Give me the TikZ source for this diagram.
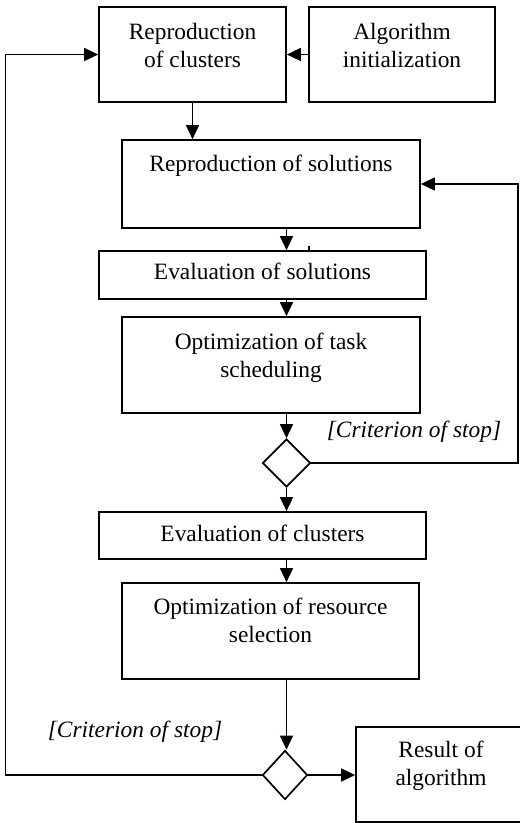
\documentclass[tikz,border=0pt]{standalone}
\usepackage{fontspec}
\setmainfont{Liberation Serif}
\usetikzlibrary{arrows.meta,shapes.geometric}
\begin{document}
\begin{tikzpicture}[x=1pt,y=-1pt,
  box/.style={draw,line width=1.7pt,rectangle,inner sep=0pt},
  gate/.style={draw,line width=1.7pt,diamond,inner sep=0pt},
  txt/.style={inner sep=0pt,align=center,font=\fontsize{23.4}{28}\selectfont},
  cond/.style={inner sep=0pt,font=\fontsize{23.4}{28}\selectfont\itshape},
  flow/.style={line width=1.6pt,-{Triangle[length=14pt,width=13pt]}},
  wire/.style={line width=1.6pt}]
\useasboundingbox (0,0) rectangle (520,823);
\clip (0,0) rectangle (520,823);

% main axis and feedback lines
\coordinate (axis) at (286.5,0);
\coordinate (loopL) at (5.5,0);
\coordinate (loopR) at (518,0);
\coordinate (tickx) at (309,0);

% boxes
\node[box,minimum width=187pt,minimum height=95pt] (b1) at (192.5,54.5) {};
\node[box,minimum width=186pt,minimum height=95pt] (b2) at (402,54.5) {};
\node[box,minimum width=298pt,minimum height=88pt] (b3) at (271,184) {};
\node[box,minimum width=327pt,minimum height=48pt] (b4) at (262.5,275) {};
\node[box,minimum width=298pt,minimum height=96pt] (b5) at (271,365) {};
\node[gate,minimum width=48pt,minimum height=48pt] (d1) at (286.5,463) {};
\node[box,minimum width=327pt,minimum height=47pt] (b6) at (262.5,535.5) {};
\node[box,minimum width=297pt,minimum height=96pt] (b7) at (270.5,631) {};
\node[gate,minimum width=45pt,minimum height=49pt] (d2) at (285,775) {};
\node[box,minimum width=170pt,minimum height=95pt] (b8) at (441,774.5) {};

% box texts
\node[txt,anchor=north,yshift=-16.5pt] (t1) at (b1.north) {Reproduction\\of clusters};
\node[txt,anchor=north,yshift=-16.5pt] (t2) at (b2.north) {Algorithm\\initialization};
\node[txt,anchor=north,yshift=-15.5pt] (t3) at (b3.north) {Reproduction of solutions};
\node[txt,anchor=north,yshift=-12.5pt] (t4) at (b4.north) {Evaluation of solutions};
\node[txt,anchor=north,yshift=-16.5pt] (t5) at (b5.north) {Optimization of task\\scheduling};
\node[txt,anchor=north,yshift=-13.5pt] (t6) at (b6.north) {Evaluation of clusters};
\node[txt,anchor=north,yshift=-15.5pt] (t7) at (b7.north) {Optimization of resource\\selection};
\node[txt,anchor=north,yshift=-14.5pt] (t8) at (b8.north) {Result of\\algorithm};

% guard labels
\node[cond,anchor=base] (c1) at (414,437.5) {[Criterion of stop]};
\node[cond,anchor=base] (c2) at (135,737) {[Criterion of stop]};

% connectors
\draw[flow] (b2.west) -- (b1.east);
\draw[flow] (b1.south) -- (b1.south |- b3.north);
\draw[flow] (b3.south -| axis) -- (b4.north -| axis);
\draw[wire] (b4.north -| tickx) -- ++(0,-4);
\draw[flow] (b4.south -| axis) -- (b5.north -| axis);
\draw[flow] (b5.south -| axis) -- (d1.north);
\draw[flow] (d1.south) -- (b6.north -| axis);
\draw[flow] (d1.east) -- (d1.east -| loopR) |- (b3.east);
\draw[flow] (b6.south -| axis) -- (b7.north -| axis);
\draw[flow] (b7.south -| axis) -- (d2.north -| axis);
\draw[flow] (d2.east) -- (d2.east -| b8.west);
\draw[flow] (d2.west) -- (d2.west -| loopL) |- (b1.west);
\end{tikzpicture}
\end{document}
